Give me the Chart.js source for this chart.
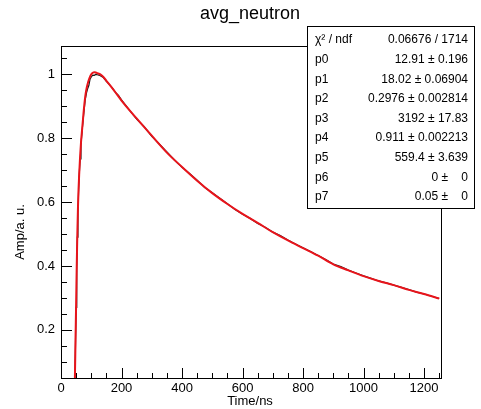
<!DOCTYPE html>
<html>
<head>
<meta charset="utf-8">
<script src="https://cdn.jsdelivr.net/npm/chart.js@4/dist/chart.umd.min.js"></script>
<style>
  html, body { margin: 0; padding: 0; background: #fff; }
  #wrap { width: 481px; height: 409px; }
</style>
</head>
<body>
<div id="wrap"><canvas id="c" width="481" height="409"></canvas></div>
<script>
(function () {
  "use strict";

  const dataTime = [0, 40, 44, 46, 48, 50, 52, 54, 56, 58, 60, 63, 66, 70, 75, 80, 85, 88, 92, 96,
    100, 105, 110, 115, 120, 125, 130, 140, 150, 160, 170, 180, 190, 200, 225, 250, 275, 300,
    325, 350, 375, 400, 425, 450, 475, 500, 525, 550, 575, 600, 625, 650, 675, 700, 725, 750,
    775, 800, 825, 850, 875, 900, 925, 950, 975, 1000, 1025, 1050, 1075, 1100, 1125, 1150,
    1175, 1200, 1225, 1250];
  const dataAmp = [0.0, 0.0, 0.01, 0.05, 0.16, 0.27, 0.39, 0.49, 0.57, 0.63, 0.68, 0.735, 0.78,
    0.825, 0.875, 0.92, 0.945, 0.955, 0.965, 0.985, 0.992, 0.998, 0.997, 1.0, 0.999, 0.998, 0.996,
    0.990, 0.978, 0.968, 0.957, 0.944, 0.934, 0.920, 0.890, 0.860, 0.836, 0.806, 0.782, 0.757,
    0.732, 0.709, 0.690, 0.669, 0.646, 0.629, 0.612, 0.595, 0.577, 0.562, 0.549, 0.533, 0.521,
    0.506, 0.495, 0.481, 0.469, 0.457, 0.445, 0.433, 0.420, 0.406, 0.398, 0.387, 0.378, 0.369,
    0.361, 0.353, 0.347, 0.340, 0.333, 0.326, 0.318, 0.312, 0.305, 0.298];

  // Fit curve (red).
  const fitTime = [44, 46, 48, 50, 52, 54, 56, 58, 60, 63, 66, 70, 75, 80, 85, 90, 95, 100, 105,
    110, 115, 120, 130, 140, 150, 175, 200, 250, 300, 350, 400, 450, 500, 550, 600, 650, 700,
    750, 800, 850, 900, 950, 1000, 1050, 1100, 1150, 1200, 1250];
  const fitAmp = [0.0, 0.05, 0.17, 0.28, 0.40, 0.50, 0.58, 0.64, 0.685, 0.74, 0.785, 0.83, 0.885,
    0.93, 0.958, 0.977, 0.991, 1.0, 1.005, 1.007, 1.006, 1.004, 1.0, 0.992, 0.98, 0.95, 0.918,
    0.862, 0.808, 0.755, 0.71, 0.667, 0.628, 0.594, 0.563, 0.535, 0.506, 0.48, 0.456, 0.432,
    0.405, 0.386, 0.368, 0.353, 0.34, 0.325, 0.312, 0.298];

  const xTicks = [0, 200, 400, 600, 800, 1000, 1200];
  const yTicks = [0.2, 0.4, 0.6, 0.8, 1];

  const statsRows = [
    ["\u03c7\u00b2 / ndf", "0.06676 / 1714"],
    ["p0", "12.91 \u00b1 0.196"],
    ["p1", "18.02 \u00b1 0.06904"],
    ["p2", "0.2976 \u00b1 0.002814"],
    ["p3", "3192 \u00b1 17.83"],
    ["p4", "0.911 \u00b1 0.002213"],
    ["p5", "559.4 \u00b1 3.639"],
    ["p6", "0 \u00b1    0"],
    ["p7", "0.05 \u00b1    0"],
  ];

  const X_MIN = 0, X_MAX = 1256;
  const Y_MIN = 0.049, Y_MAX = 1.089;
  const FONT = "'Liberation Sans', Arial, Helvetica, sans-serif";

  function pts(xs, ys) {
    return xs.map(function (x, i) { return { x: x, y: ys[i] }; });
  }

  // Frame, ROOT-style inward ticks, titles and the stats box.
  const rootDecor = {
    id: "rootDecor",
    afterDraw: function (chart) {
      const ctx = chart.ctx;
      const a = chart.chartArea;
      const xs = chart.scales.x, ys = chart.scales.y;
      ctx.save();
      ctx.strokeStyle = "#000";
      ctx.lineWidth = 1;
      ctx.strokeRect(a.left + 0.5, a.top + 0.5, a.right - a.left, a.bottom - a.top);

      ctx.beginPath();
      for (let v = 0; v <= X_MAX; v += 50) {
        const px = Math.round(xs.getPixelForValue(v)) + 0.5;
        const len = v % 200 === 0 ? 10 : 5;
        ctx.moveTo(px, a.bottom);
        ctx.lineTo(px, a.bottom - len);
      }
      for (let k = 1; k * 0.05 <= Y_MAX; k++) {
        const v = k * 0.05;
        if (v < Y_MIN) continue;
        const py = Math.round(ys.getPixelForValue(v)) + 0.5;
        const len = k % 4 === 0 ? 11 : 6;
        ctx.moveTo(a.left, py);
        ctx.lineTo(a.left + len, py);
      }
      ctx.stroke();

      ctx.fillStyle = "#000";
      ctx.textAlign = "center";
      ctx.textBaseline = "middle";
      ctx.font = "18px " + FONT;
      ctx.fillText("avg_neutron", 250, 14);
      ctx.font = "13px " + FONT;
      ctx.fillText("Time/ns", 250, 401);
      ctx.save();
      ctx.translate(20, 232);
      ctx.rotate(-Math.PI / 2);
      ctx.fillText("Amp/a. u.", 0, 0);
      ctx.restore();

      // stats box
      const bx = 307, by = 26, bw = 167, bh = 182;
      ctx.fillStyle = "#fff";
      ctx.fillRect(bx, by, bw, bh);
      ctx.strokeRect(bx + 0.5, by + 0.5, bw, bh);
      ctx.fillStyle = "#000";
      ctx.font = "12px " + FONT;
      statsRows.forEach(function (r, i) {
        const y = 40 + i * 19.6;
        ctx.textAlign = "left";
        ctx.fillText(r[0], 315, y);
        ctx.textAlign = "right";
        ctx.fillText(r[1], 468, y);
      });
      ctx.restore();
    },
  };

  new Chart(document.getElementById("c").getContext("2d"), {
    type: "scatter",
    data: {
      datasets: [
        {
          label: "fit",
          data: pts(fitTime, fitAmp),
          showLine: true,
          borderColor: "#e8141b",
          borderWidth: 2,
          pointRadius: 0,
          cubicInterpolationMode: "monotone",
        },
        {
          label: "data",
          data: pts(dataTime, dataAmp),
          showLine: true,
          borderColor: "#1a1a1a",
          borderWidth: 1.2,
          pointRadius: 0,
        },
      ],
    },
    options: {
      responsive: false,
      animation: false,
      devicePixelRatio: 1,
      layout: { padding: { left: 0, top: 46, right: 40, bottom: 0 } },
      plugins: { legend: { display: false }, tooltip: { enabled: false } },
      scales: {
        x: {
          type: "linear",
          min: X_MIN,
          max: X_MAX,
          afterFit: function (s) { s.height = 31; },
          afterBuildTicks: function (s) { s.ticks = xTicks.map(function (v) { return { value: v }; }); },
          grid: { display: false, drawTicks: false },
          border: { display: false },
          ticks: { color: "#000", padding: 3, maxRotation: 0, font: { family: FONT, size: 13 },
            callback: function (v) { return String(v); } },
        },
        y: {
          type: "linear",
          min: Y_MIN,
          max: Y_MAX,
          afterFit: function (s) { s.width = 61; },
          afterBuildTicks: function (s) { s.ticks = yTicks.map(function (v) { return { value: v }; }); },
          grid: { display: false, drawTicks: false },
          border: { display: false },
          ticks: { color: "#000", padding: 6, font: { family: FONT, size: 13 },
            callback: function (v) { return String(v); } },
        },
      },
    },
    plugins: [rootDecor],
  });
})();
</script>
</body>
</html>
